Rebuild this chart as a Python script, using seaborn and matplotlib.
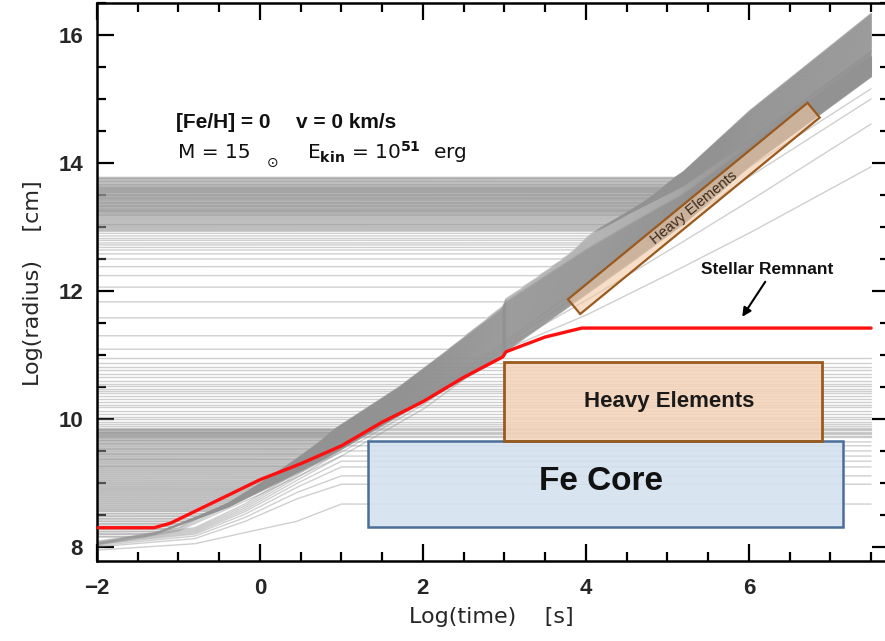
import numpy as np
import pandas as pd
import matplotlib
matplotlib.use("Agg")
import matplotlib.pyplot as plt
import seaborn as sns
from matplotlib.patches import Rectangle, Polygon
from matplotlib.ticker import MultipleLocator

sns.set_theme(style="white")
plt.rcParams["font.family"] = ["Liberation Sans", "DejaVu Sans"]
plt.rcParams["axes.edgecolor"] = "black"

# ---------------- data ----------------
# envelope of the expanding band of mass shells (log t, log r)
band_t = [-2.0, -1.3, -0.4, 0.8, 1.7, 2.98, 3.02, 4.0, 4.5, 5.2, 6.0, 7.5]
band_top = [8.08, 8.31, 8.90, 9.85, 10.62, 11.95, 12.06, 12.85, 13.25, 13.86, 14.80, 16.33]
inner_top = [8.08, 8.31, 8.90, 9.85, 10.62, 11.95, 12.06, 12.85, 13.20, 13.65, 14.35, 15.75]
band_bot = [8.00, 8.20, 8.62, 9.38, 10.05, 10.97, 11.06, 11.95, 12.40, 13.05, 13.95, 15.35]

# initial radii of the shells (flat part of the lines)
outer_r0 = [13.77, 13.75, 13.72, 13.70, 13.67, 13.65, 13.63, 13.61, 13.60, 13.58,
            13.57, 13.55, 13.54, 13.52, 13.50, 13.49, 13.47, 13.45, 13.44, 13.42,
            13.40, 13.38, 13.37, 13.35, 13.33, 13.32, 13.30, 13.28, 13.26, 13.25,
            13.23, 13.21, 13.19, 13.17, 13.14, 13.11, 13.08, 13.05, 13.03, 13.00,
            12.97, 12.94]
middle_r0 = [12.90, 12.86, 12.82, 12.79, 12.75, 12.72, 12.68, 12.64, 12.58, 12.50,
             12.38, 12.24, 12.06, 11.83, 11.58, 11.30, 11.09]
inner_r0 = [9.83, 9.80, 9.78, 9.75, 9.73, 9.70, 9.67, 9.65, 9.62, 9.60, 9.57, 9.54,
            9.52, 9.49, 9.46, 9.44, 9.41, 9.38, 9.36, 9.33, 9.30, 9.27, 9.25, 9.22,
            9.19, 9.16, 9.13, 9.10, 9.07, 9.04, 9.01, 8.98, 8.95, 8.92, 8.89, 8.86,
            8.83, 8.80, 8.77, 8.74, 8.71, 8.68, 8.65, 8.62, 8.59, 8.56, 8.52, 8.48,
            8.44, 8.40, 8.36, 8.32, 8.28, 8.24, 8.20, 8.16]
static_r0 = [10.95, 10.88, 10.81, 10.76, 10.70, 10.66, 10.60, 10.55, 10.52, 10.47,
             10.44, 10.40, 10.36, 10.31, 10.27, 10.22, 10.18, 10.13, 10.08, 10.03,
             10.00, 9.95, 9.92, 9.89, 9.86, 9.84, 9.82, 9.80, 9.78, 9.76, 9.74, 9.72]

# inner shells that rise and settle (below the band)
settle_t = [-2.0, -0.8, -0.2, 0.45, 1.0, 7.5]
settle_lines = [
    [7.95, 8.05, 8.22, 8.40, 8.67, 8.67],
    [8.00, 8.13, 8.39, 8.75, 8.98, 8.98],
    [8.02, 8.17, 8.45, 8.85, 9.11, 9.11],
    [8.04, 8.20, 8.50, 8.93, 9.25, 9.25],
    [8.05, 8.22, 8.54, 8.99, 9.34, 9.34],
    [8.06, 8.24, 8.57, 9.04, 9.42, 9.42],
    [8.07, 8.26, 8.60, 9.08, 9.50, 9.50],
    [8.08, 8.28, 8.63, 9.12, 9.58, 9.58],
    [8.09, 8.30, 8.66, 9.16, 9.64, 9.64],
]

# slower shells that keep expanding below the band
slow_t = [-2.0, -1.0, 0.0, 1.0, 2.0, 3.0, 4.0, 5.0, 6.0, 7.5]
slow_lines = [
    [8.03, 8.25, 8.82, 9.42, 10.15, 11.08, 11.62, 12.25, 12.90, 13.94],
    [8.04, 8.27, 8.86, 9.48, 10.22, 11.12, 11.85, 12.62, 13.40, 14.61],
    [8.05, 8.29, 8.90, 9.53, 10.28, 11.16, 12.02, 12.92, 13.78, 15.00],
    [8.06, 8.30, 8.93, 9.57, 10.33, 11.20, 12.12, 13.05, 13.93, 15.16],
]

# stellar remnant (red)
remnant_t = [-2.0, -1.3, -1.1, -0.5, 0.0, 0.5, 1.0, 1.5, 2.0, 2.5, 2.98, 3.02, 3.5, 3.95, 7.5]
remnant_r = [8.30, 8.30, 8.37, 8.74, 9.05, 9.30, 9.58, 9.95, 10.27, 10.65, 10.97, 11.05, 11.28, 11.42, 11.42]

# ---------------- build shell trajectories ----------------
tgrid = np.linspace(-2.0, 7.5, 951)
dense, light = [], []
counter = [0]


def add(store, r):
    store.append(pd.DataFrame({"time": tgrid, "radius": r, "shell": counter[0]}))
    counter[0] += 1


top = np.interp(tgrid, band_t, band_top)
itop = np.interp(tgrid, band_t, inner_top)
bot = np.interp(tgrid, band_t, band_bot)

n = len(outer_r0)
for i, r0 in enumerate(outer_r0):
    f = i / (n - 1)
    add(dense, np.maximum(r0, top - f * (top - itop)))

inner_all = middle_r0 + inner_r0
n = len(inner_all)
for i, r0 in enumerate(inner_all):
    f = i / (n - 1)
    curve = np.maximum(r0, itop - f * (itop - bot))
    add(light if r0 in middle_r0 else dense, curve)

for r0 in static_r0:
    add(light, np.full_like(tgrid, r0))
for vals in settle_lines:
    add(light, np.interp(tgrid, settle_t, vals))
for vals in slow_lines:
    add(light, np.interp(tgrid, slow_t, vals))

df_dense = pd.concat(dense, ignore_index=True)
df_light = pd.concat(light, ignore_index=True)

# ---------------- figure ----------------
fig = plt.figure(figsize=(8.85, 6.41), dpi=100)
ax = fig.add_axes([97 / 885, 1 - 561 / 641, (889 - 97) / 885, (561 - 3) / 641])

sns.lineplot(data=df_light, x="time", y="radius", units="shell", estimator=None,
             color="#8e8e8e", lw=1.0, alpha=0.42, sort=False, legend=False, ax=ax)
sns.lineplot(data=df_dense, x="time", y="radius", units="shell", estimator=None,
             color="#929292", lw=1.4, alpha=0.6, sort=False, legend=False, ax=ax)
sns.lineplot(x=remnant_t, y=remnant_r, color="#ff1010", lw=2.4, sort=False,
             legend=False, ax=ax, zorder=5)

# boxes
ax.add_patch(Rectangle((1.33, 8.31), 7.15 - 1.33, 9.66 - 8.31, facecolor="#d3e0ef",
                       alpha=0.85, edgecolor="none", zorder=6))
ax.add_patch(Rectangle((1.33, 8.31), 7.15 - 1.33, 9.66 - 8.31, facecolor="none",
                       edgecolor="#4b6e98", lw=1.8, zorder=7))
ax.add_patch(Rectangle((2.99, 9.66), 6.90 - 2.99, 10.89 - 9.66, facecolor="#f5d3b8",
                       alpha=0.85, edgecolor="none", zorder=6))
ax.add_patch(Rectangle((2.99, 9.66), 6.90 - 2.99, 10.89 - 9.66, facecolor="none",
                       edgecolor="#9a5a1e", lw=2.0, zorder=7))
rot = [(3.78, 11.87), (6.72, 14.94), (6.87, 14.71), (3.93, 11.64)]
ax.add_patch(Polygon(rot, closed=True, facecolor="#f0c8a4", alpha=0.6,
                     edgecolor="none", zorder=6))
ax.add_patch(Polygon(rot, closed=True, facecolor="none", edgecolor="#9a5a1e",
                     lw=1.6, zorder=7))

ax.text(5.02, 10.28, "Heavy Elements", ha="center", va="center", fontsize=16,
        fontweight="bold", color="#1a1a1a", zorder=8)
ax.text(4.18, 9.02, "Fe Core", ha="center", va="center", fontsize=24,
        fontweight="bold", color="#111111", zorder=8)
ax.text(5.33, 13.30, "Heavy Elements", ha="center", va="center", fontsize=10.5,
        rotation=39.2, rotation_mode="anchor", color="#3b2a1a", zorder=8)
ax.text(6.22, 12.33, "Stellar Remnant", ha="center", va="center", fontsize=12.5,
        fontweight="bold", color="#111111", zorder=8)
ax.annotate("", xy=(5.9, 11.56), xytext=(6.22, 12.18),
            arrowprops=dict(arrowstyle="-|>", color="black", lw=1.5, mutation_scale=13),
            zorder=8)

ax.text(-1.03, 14.64, "[Fe/H] = 0", ha="left", va="center",
        fontsize=15, fontweight="bold", color="#111111", zorder=8)
ax.text(0.44, 14.64, "v = 0 km/s", ha="left", va="center",
        fontsize=15, fontweight="bold", color="#111111", zorder=8)
ax.text(-1.0, 14.17, "M = 15", ha="left", va="center", fontsize=14.5,
        family="DejaVu Sans", color="#111111", zorder=8)
ax.text(0.15, 14.00, "\u2299", ha="center", va="center", fontsize=10,
        family="DejaVu Sans", color="#111111", zorder=8)
ax.text(0.58, 14.17, r"E$_{\mathbf{kin}}$ = 10$^{\mathbf{51}}$  erg", ha="left",
        va="center", fontsize=14.5, family="DejaVu Sans", color="#111111", zorder=8)

# axes
ax.set_xlim(-2.0, 7.72)
ax.set_ylim(7.78, 16.5)
ax.set_xticks([-2, 0, 2, 4, 6])
ax.set_yticks([8, 10, 12, 14, 16])
ax.xaxis.set_minor_locator(MultipleLocator(0.5))
ax.yaxis.set_minor_locator(MultipleLocator(0.5))
ax.tick_params(which="both", direction="in", top=True, right=True, bottom=True,
               left=True, color="black", width=1.6)
ax.tick_params(which="major", length=12, labelsize=16)
ax.tick_params(which="minor", length=6.5)
ax.tick_params(axis="x", which="major", pad=12)
ax.tick_params(axis="y", which="major", pad=10)
plt.setp(ax.get_xticklabels() + ax.get_yticklabels(), fontweight="bold")
for s in ax.spines.values():
    s.set_linewidth(1.8)
    s.set_color("black")

ax.set_xlabel("Log(time)    [s]", fontsize=16, family="DejaVu Sans")
ax.set_ylabel("Log(radius)    [cm]", fontsize=16, family="DejaVu Sans")
ax.xaxis.set_label_coords(0.498, -0.083)
ax.yaxis.set_label_coords(-0.068, 0.498)

fig.savefig("out.png", dpi=100)
